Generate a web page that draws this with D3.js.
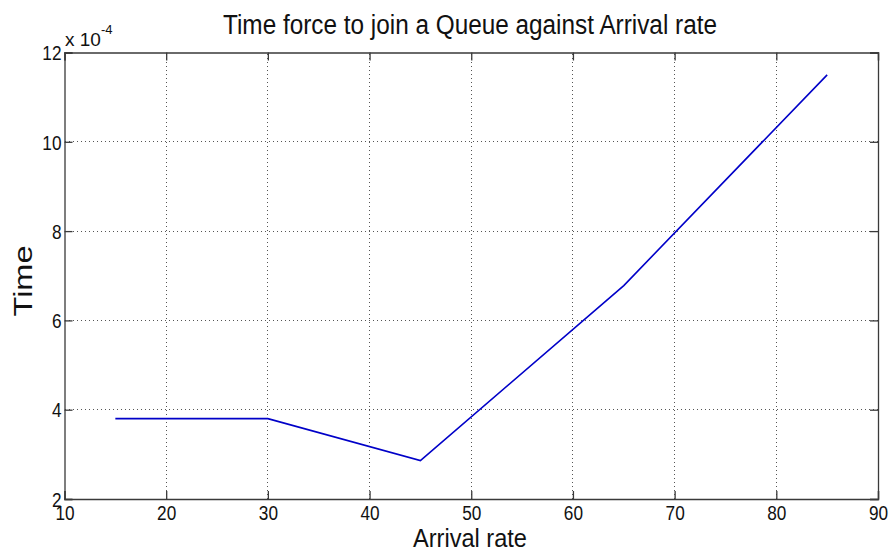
<!DOCTYPE html>
<html>
<head>
<meta charset="utf-8">
<script src="https://cdn.jsdelivr.net/npm/d3@7"></script>
<style>
  html, body { margin: 0; padding: 0; background: #fff; }
  svg { display: block; font-family: "Liberation Sans", Arial, sans-serif; }
</style>
</head>
<body>
<svg id="chart" width="894" height="555"></svg>
<script>
// Arrival rate vs. time forced to join the queue (values in units of 1e-4)
const arrivalRate = [15, 30, 45, 65, 85];
const timeValues = [3.8, 3.8, 2.86, 6.78, 11.5];
const xTicks = [10, 20, 30, 40, 50, 60, 70, 80, 90];
const yTicks = [2, 4, 6, 8, 10, 12];

const svg = d3.select("#chart");
const W = 894, H = 555;
const margin = { left: 64.5, right: W - 878, top: 52.5, bottom: H - 499 };

const x = d3.scaleLinear().domain([10, 90]).range([margin.left, W - margin.right]);
const y = d3.scaleLinear().domain([2, 12]).range([H - margin.bottom, margin.top]);

const axisColor = "#3a3a3a";
const gridColor = "#555";
const textColor = "#111";
const condense = 0.86; // narrow, Helvetica-like lettering

// squeeze a text element horizontally while keeping its height
function narrow(sel, factor) {
  sel.each(function () {
    const n = this.getComputedTextLength();
    if (n > 0) {
      d3.select(this).attr("textLength", n * factor).attr("lengthAdjust", "spacingAndGlyphs");
    }
  });
}

// dotted grid
const grid = svg.append("g");
grid.selectAll(".gx").data(xTicks.slice(1, -1)).join("line")
  .attr("x1", d => x(d)).attr("x2", d => x(d))
  .attr("y1", y(2)).attr("y2", y(12))
  .attr("stroke", gridColor).attr("stroke-width", 1)
  .attr("stroke-dasharray", "1,3").attr("shape-rendering", "crispEdges");
grid.selectAll(".gy").data(yTicks.slice(1, -1)).join("line")
  .attr("x1", x(10)).attr("x2", x(90))
  .attr("y1", d => y(d)).attr("y2", d => y(d))
  .attr("stroke", gridColor).attr("stroke-width", 1)
  .attr("stroke-dasharray", "1,3").attr("shape-rendering", "crispEdges");

// axes with inward ticks on all four sides
const tickLen = 8;
const fmt = d3.format("d");
const axBottom = svg.append("g").attr("transform", `translate(0,${y(2)})`)
  .call(d3.axisBottom(x).tickValues(xTicks).tickSize(-tickLen).tickFormat(fmt));
const axTop = svg.append("g").attr("transform", `translate(0,${y(12)})`)
  .call(d3.axisTop(x).tickValues(xTicks).tickSize(-tickLen).tickFormat(""));
const axLeft = svg.append("g").attr("transform", `translate(${x(10)},0)`)
  .call(d3.axisLeft(y).tickValues(yTicks).tickSize(-tickLen).tickFormat(fmt));
const axRight = svg.append("g").attr("transform", `translate(${x(90)},0)`)
  .call(d3.axisRight(y).tickValues(yTicks).tickSize(-tickLen).tickFormat(""));

[axBottom, axTop, axLeft, axRight].forEach(g => {
  g.select(".domain").attr("stroke", axisColor).attr("stroke-width", 1.3);
  g.selectAll(".tick line").attr("stroke", axisColor).attr("stroke-width", 1.3);
  g.selectAll("text").attr("fill", textColor).style("font-size", "20px")
    .style("font-family", "'Liberation Sans', Arial, sans-serif");
});
axBottom.selectAll("text").attr("y", 21).attr("dy", null);
axLeft.selectAll("text").attr("x", -3).attr("dy", "0.36em");
narrow(axBottom.selectAll("text"), condense);
narrow(axLeft.selectAll("text"), condense);

// exponent label
const expo = svg.append("text")
  .attr("x", x(10) + 0.5).attr("y", y(12) - 6.5)
  .attr("fill", textColor).style("font-size", "19px");
expo.append("tspan").text("x 10");
expo.append("tspan").attr("dy", -12).style("font-size", "13px").text("-4");

// data line
const line = d3.line().x((d, i) => x(arrivalRate[i])).y(d => y(d));
svg.append("path")
  .datum(timeValues)
  .attr("d", line)
  .attr("fill", "none")
  .attr("stroke", "#0000c8")
  .attr("stroke-width", 1.6);

// titles
svg.append("text")
  .attr("x", 470).attr("y", 34)
  .attr("text-anchor", "middle").attr("fill", textColor)
  .style("font-size", "27px")
  .attr("textLength", 494).attr("lengthAdjust", "spacingAndGlyphs")
  .text("Time force to join a Queue against Arrival rate");

svg.append("text")
  .attr("x", 470).attr("y", 547)
  .attr("text-anchor", "middle").attr("fill", textColor)
  .style("font-size", "25px")
  .attr("textLength", 114).attr("lengthAdjust", "spacingAndGlyphs")
  .text("Arrival rate");

svg.append("text")
  .attr("transform", `translate(32,281) rotate(-90)`)
  .attr("text-anchor", "middle").attr("fill", textColor)
  .style("font-size", "25px")
  .attr("textLength", 71).attr("lengthAdjust", "spacingAndGlyphs")
  .text("Time");
</script>
</body>
</html>
